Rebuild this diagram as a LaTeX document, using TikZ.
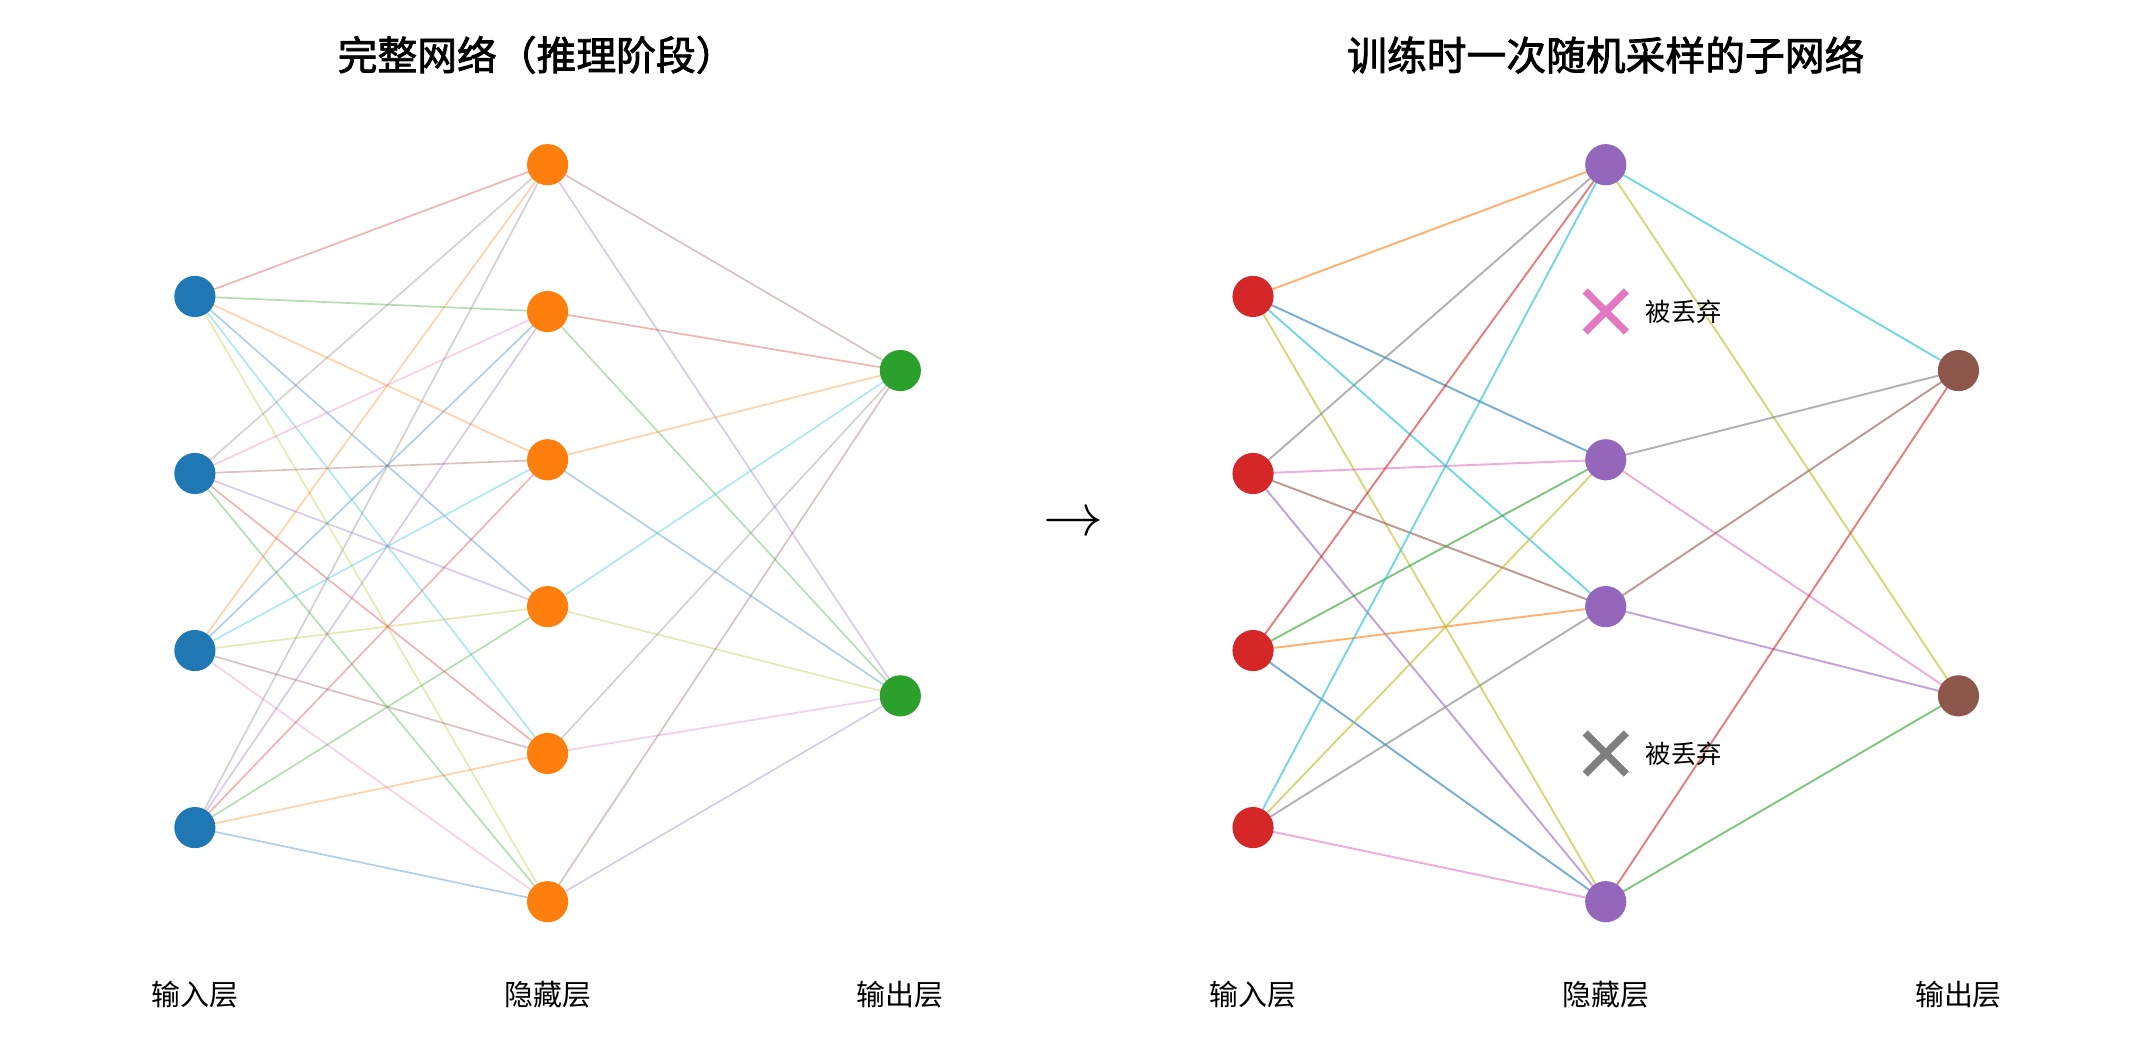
\documentclass[tikz,border=0pt]{standalone}
\usepackage{fontspec}
\setmainfont{Noto Sans CJK SC}
\newfontfamily\cjkb[FakeBold=2]{Noto Sans CJK SC}
\begin{document}
\begin{tikzpicture}[x=0.02cm,y=-0.02cm]
\definecolor{tblue}{HTML}{1F77B4}\definecolor{torange}{HTML}{FF7F0E}
\definecolor{tgreen}{HTML}{2CA02C}\definecolor{tred}{HTML}{D62728}
\definecolor{tpurple}{HTML}{9467BD}\definecolor{tbrown}{HTML}{8C564B}
\definecolor{tpink}{HTML}{E377C2}\definecolor{tgray}{HTML}{7F7F7F}
\definecolor{tolive}{HTML}{BCBD22}\definecolor{tcyan}{HTML}{17BECF}
\tikzset{nd/.style={circle,inner sep=0pt,minimum size=0.6cm},
 ef/.style={line width=0.7pt,opacity=0.35},
 es/.style={line width=0.8pt,opacity=0.6},
 lbl/.style={font=\fontsize{12}{14}\selectfont},
 ttl/.style={font=\cjkb\fontsize{16.5}{19}\selectfont}}
\useasboundingbox (0,0) rectangle (1560,774);
% titles
\node[ttl] (t1) at (391,40) {完整网络（推理阶段）};
\node[ttl] (t2) at (1170,40) {训练时一次随机采样的子网络};
\node[font=\fontsize{34}{36}\selectfont] (arr) at (782,382) {$\rightarrow$};
% left nodes
\foreach \i/\y in {1/216,2/345,3/474,4/603} \coordinate (a\i) at (142,\y);
\foreach \i/\y in {1/120,2/227,3/335,4/442,5/549,6/657} \coordinate (b\i) at (399,\y);
\foreach \i/\y in {1/270,2/507} \coordinate (c\i) at (656,\y);
\foreach \i/\j/\c in {1/1/tred,1/2/tgreen,1/3/torange,1/4/tblue,1/5/tcyan,1/6/tolive,
 2/1/tgray,2/2/tpink,2/3/tbrown,2/4/tpurple,2/5/tred,2/6/tgreen,
 3/1/torange,3/2/tblue,3/3/tcyan,3/4/tolive,3/5/tbrown,3/6/tpink,
 4/1/tgray,4/2/tpurple,4/3/tred,4/4/tgreen,4/5/torange,4/6/tblue}
 \draw[ef,\c] (a\i) -- (b\j);
\foreach \i/\j/\c in {1/1/tbrown,1/2/tpurple,2/1/tred,2/2/tgreen,3/1/torange,3/2/tblue,
 4/1/tcyan,4/2/tolive,5/1/tgray,5/2/tpink,6/1/tbrown,6/2/tpurple}
 \draw[ef,\c] (b\i) -- (c\j);
\foreach \i in {1,...,4} \node[nd,fill=tblue] (A\i) at (a\i) {};
\foreach \i in {1,...,6} \node[nd,fill=torange] (B\i) at (b\i) {};
\foreach \i in {1,2} \node[nd,fill=tgreen] (C\i) at (c\i) {};
% right nodes
\foreach \i/\y in {1/216,2/345,3/474,4/603} \coordinate (d\i) at (913,\y);
\foreach \i/\y in {1/120,3/335,4/442,6/657} \coordinate (e\i) at (1170,\y);
\foreach \i/\y in {1/270,2/507} \coordinate (f\i) at (1427,\y);
\foreach \i/\j/\c in {1/1/torange,1/3/tblue,1/4/tcyan,1/6/tolive,
 2/1/tgray,2/3/tpink,2/4/tbrown,2/6/tpurple,
 3/1/tred,3/3/tgreen,3/4/torange,3/6/tblue,
 4/1/tcyan,4/3/tolive,4/4/tgray,4/6/tpink}
 \draw[es,\c] (d\i) -- (e\j);
\foreach \i/\j/\c in {1/1/tcyan,1/2/tolive,3/1/tgray,3/2/tpink,4/1/tbrown,4/2/tpurple,6/1/tred,6/2/tgreen}
 \draw[es,\c] (e\i) -- (f\j);
\foreach \i in {1,...,4} \node[nd,fill=tred] (D\i) at (d\i) {};
\foreach \i in {1,3,4,6} \node[nd,fill=tpurple] (E\i) at (e\i) {};
\foreach \i in {1,2} \node[nd,fill=tbrown] (F\i) at (f\i) {};
% dropped
\draw[tpink,line width=3pt] (1155,212) -- (1185,242) (1155,242) -- (1185,212);
\draw[tgray,line width=3pt] (1155,534) -- (1185,564) (1155,564) -- (1185,534);
\node[font=\fontsize{10.5}{12}\selectfont,anchor=west] (x1) at (1193,227) {被丢弃};
\node[font=\fontsize{10.5}{12}\selectfont,anchor=west] (x2) at (1193,549) {被丢弃};
% layer labels
\foreach \x/\t [count=\k] in {142/输入层,399/隐藏层,656/输出层,913/输入层,1170/隐藏层,1427/输出层}
 \node[lbl] (L\k) at (\x,725) {\t};
\end{tikzpicture}
\end{document}
